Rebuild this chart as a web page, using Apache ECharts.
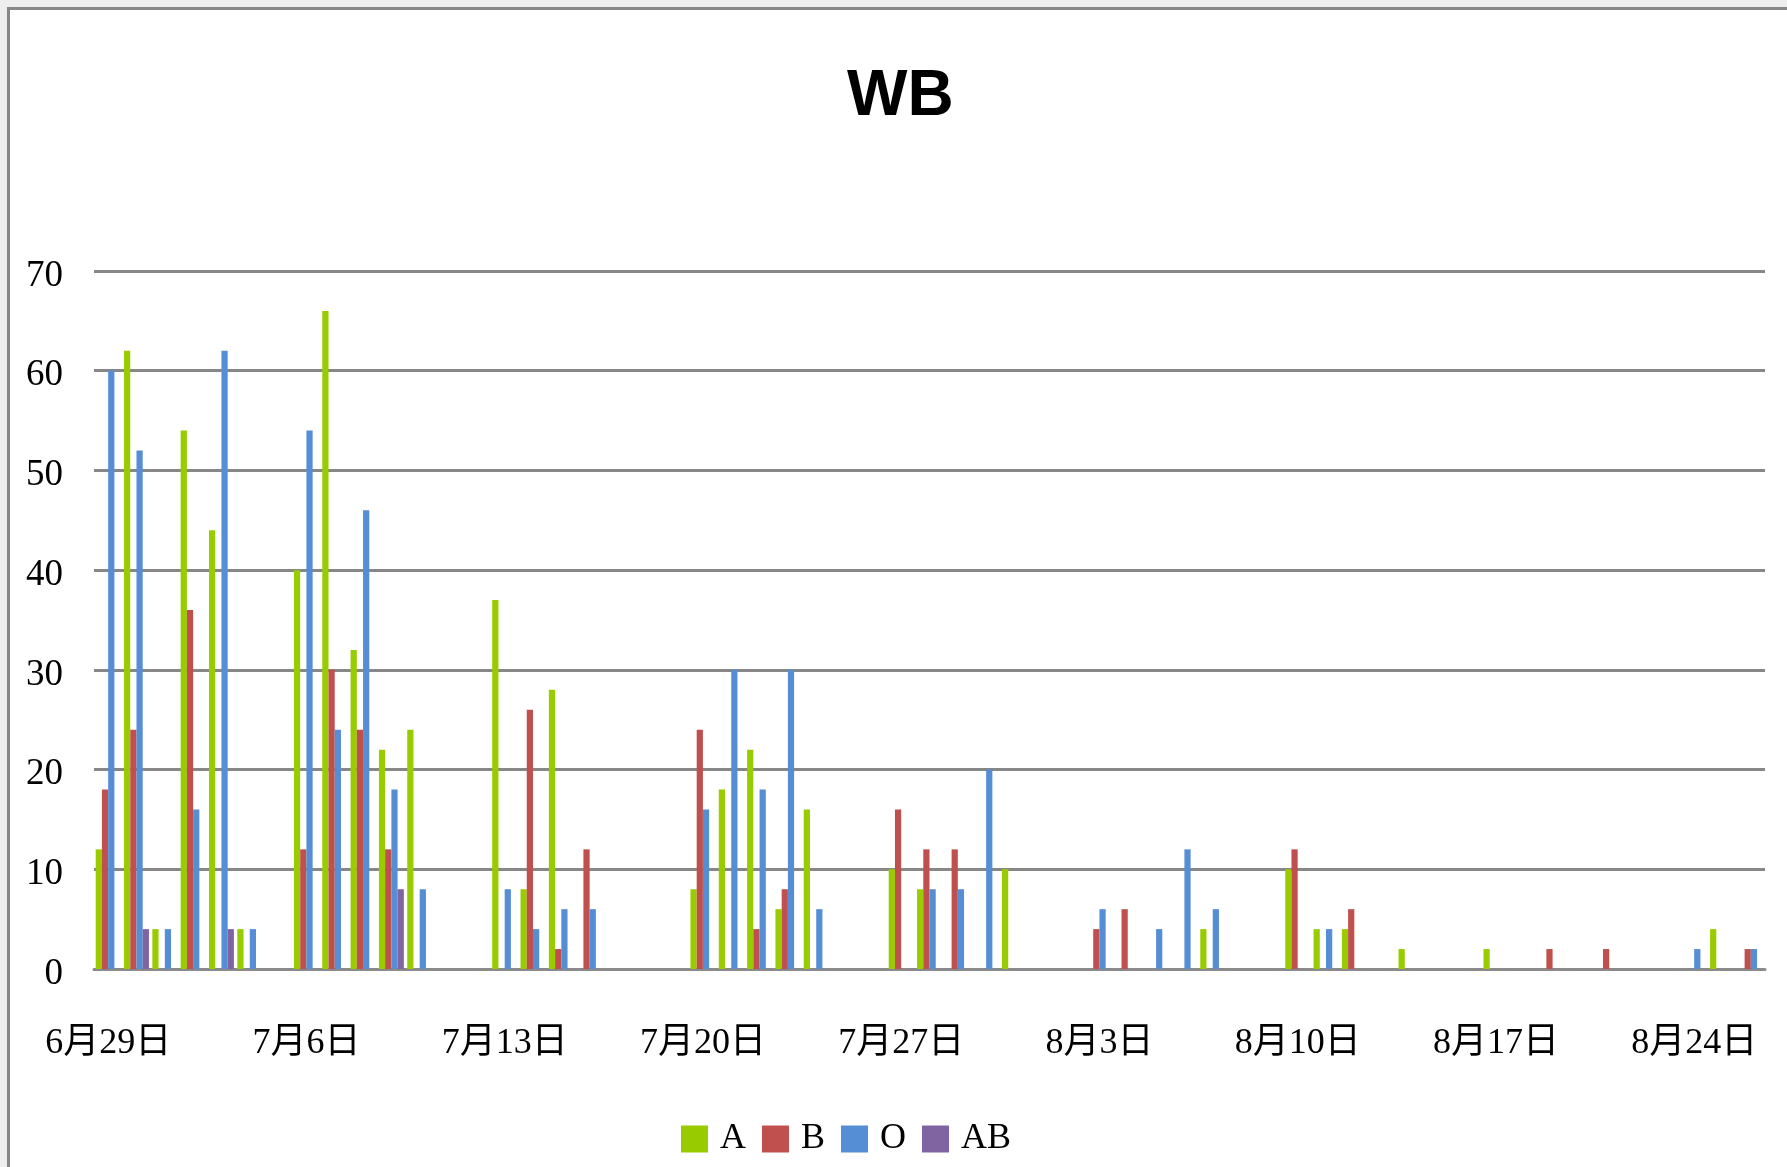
<!DOCTYPE html>
<html>
<head>
<meta charset="utf-8">
<title>WB</title>
<script src="https://cdn.jsdelivr.net/npm/echarts@6/dist/echarts.min.js"></script>
<style>
  html, body { margin: 0; padding: 0; background: #eeeeee; overflow: hidden; }
  #frame {
    position: absolute; left: 7px; top: 7px; width: 1800px; height: 1180px;
    background: #ffffff; border-left: 3px solid #878787; border-top: 3px solid #878787;
  }
  #wbChart { position: absolute; left: 0; top: 0; width: 1787px; height: 1167px; }
</style>
</head>
<body>
<div id="frame"></div>
<div id="wbChart"></div>
<script>
// 日期（6月29日 ~ 8月26日）
const days = [
  '6月29日', '6月30日', '7月1日', '7月2日', '7月3日', '7月4日', '7月5日',
  '7月6日', '7月7日', '7月8日', '7月9日', '7月10日', '7月11日', '7月12日',
  '7月13日', '7月14日', '7月15日', '7月16日', '7月17日', '7月18日', '7月19日',
  '7月20日', '7月21日', '7月22日', '7月23日', '7月24日', '7月25日', '7月26日',
  '7月27日', '7月28日', '7月29日', '7月30日', '7月31日', '8月1日', '8月2日',
  '8月3日', '8月4日', '8月5日', '8月6日', '8月7日', '8月8日', '8月9日',
  '8月10日', '8月11日', '8月12日', '8月13日', '8月14日', '8月15日', '8月16日',
  '8月17日', '8月18日', '8月19日', '8月20日', '8月21日', '8月22日', '8月23日',
  '8月24日', '8月25日', '8月26日'
]

// 血型各系列
const seriesNames = ['A', 'B', 'O', 'AB']
const valuesA = [
  12, 62, 4, 54, 44, 4, 0, 40, 66, 32, 22, 24, 0, 0,
  37, 8, 28, 0, 0, 0, 0, 8, 18, 22, 6, 16, 0, 0,
  10, 8, 0, 0, 10, 0, 0, 0, 0, 0, 0, 4, 0, 0,
  10, 4, 4, 0, 2, 0, 0, 2, 0, 0, 0, 0, 0, 0,
  0, 4, 0
]
const valuesB = [
  18, 24, 0, 36, 0, 0, 0, 12, 30, 24, 12, 0, 0, 0,
  0, 26, 2, 12, 0, 0, 0, 24, 0, 4, 8, 0, 0, 0,
  16, 12, 12, 0, 0, 0, 0, 4, 6, 0, 0, 0, 0, 0,
  12, 0, 6, 0, 0, 0, 0, 0, 0, 2, 0, 2, 0, 0,
  0, 0, 2
]
const valuesO = [
  60, 52, 4, 16, 62, 4, 0, 54, 24, 46, 18, 8, 0, 0,
  8, 4, 6, 6, 0, 0, 0, 16, 30, 18, 30, 6, 0, 0,
  0, 8, 8, 20, 0, 0, 0, 6, 0, 4, 12, 6, 0, 0,
  0, 4, 0, 0, 0, 0, 0, 0, 0, 0, 0, 0, 0, 0,
  2, 0, 2
]
const valuesAB = [
  0, 4, 0, 0, 4, 0, 0, 0, 0, 0, 8, 0, 0, 0,
  0, 0, 0, 0, 0, 0, 0, 0, 0, 0, 0, 0, 0, 0,
  0, 0, 0, 0, 0, 0, 0, 0, 0, 0, 0, 0, 0, 0,
  0, 0, 0, 0, 0, 0, 0, 0, 0, 0, 0, 0, 0, 0,
  0, 0, 0
]
const colors = ['#99cc00', '#c0504d', '#558ed5', '#8064a2']

const serifFont = '"Liberation Serif", "Noto Sans CJK TC", serif'
const chart = echarts.init(document.getElementById('wbChart'))

const allValues = [valuesA, valuesB, valuesO, valuesAB]
const option = {
  animation: false,
  color: colors,
  title: {
    text: 'WB',
    left: 842,
    top: 60,
    textStyle: {
      fontFamily: '"Liberation Sans", Arial, sans-serif',
      fontWeight: 'bold',
      fontSize: 64,
      color: '#000'
    }
  },
  legend: {
    left: 676,
    top: 1116,
    itemWidth: 27,
    itemHeight: 27,
    itemGap: 16,
    icon: 'rect',
    data: seriesNames,
    textStyle: {
      fontFamily: serifFont,
      fontSize: 36,
      color: '#000',
      padding: [0, 0, 0, 7]
    }
  },
  grid: {
    left: 94,
    right: 22,
    top: 271,
    bottom: 198
  },
  xAxis: {
    type: 'category',
    data: days,
    axisLine: { show: true, lineStyle: { color: '#8a8a8a', width: 3 } },
    axisTick: { show: false },
    axisLabel: {
      interval: 6,
      margin: 57,
      fontFamily: serifFont,
      fontSize: 36,
      color: '#000'
    }
  },
  yAxis: {
    type: 'value',
    min: 0,
    max: 70,
    interval: 10,
    axisLine: { show: false },
    axisTick: { show: false },
    axisLabel: {
      margin: 31,
      fontFamily: serifFont,
      fontSize: 37,
      color: '#000',
      verticalAlign: 'top',
      lineHeight: 10
    },
    splitLine: { lineStyle: { color: '#878787', width: 3 } }
  },
  series: seriesNames.map(function (name, i) {
    return {
      name: name,
      type: 'bar',
      data: allValues[i],
      barGap: '0%',
      barCategoryGap: '12%'
    }
  })
}
chart.setOption(option)

window.addEventListener('resize', function () {
  chart.resize()
})
</script>
</body>
</html>
